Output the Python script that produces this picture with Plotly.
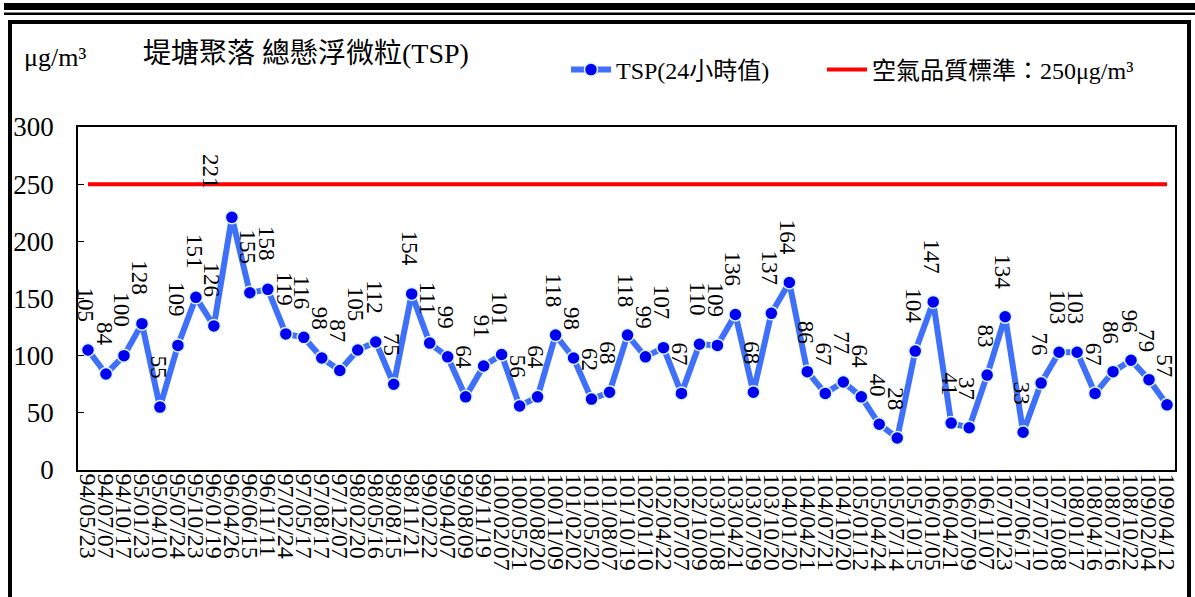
import plotly.graph_objects as go

# ---------------- data ----------------
dates = [
    "94/05/23", "94/07/07", "94/10/17",
    "95/01/23", "95/04/10", "95/07/24", "95/10/23",
    "96/01/19", "96/04/26", "96/06/15", "96/11/11",
    "97/02/24", "97/05/17", "97/08/17", "97/12/07",
    "98/02/20", "98/05/16", "98/08/15", "98/11/21",
    "99/02/22", "99/04/07", "99/08/09", "99/11/19",
    "100/02/07", "100/05/21", "100/08/20", "100/11/09",
    "101/02/02", "101/05/20", "101/08/07", "101/10/19",
    "102/01/10", "102/04/22", "102/07/07", "102/10/09",
    "103/01/08", "103/04/21", "103/07/09", "103/10/20",
    "104/01/20", "104/04/21", "104/07/21", "104/10/20",
    "105/01/12", "105/04/24", "105/07/14", "105/10/15",
    "106/01/05", "106/04/21", "106/07/09", "106/11/07",
    "107/01/23", "107/06/17", "107/07/10", "107/10/08",
    "108/01/17", "108/04/16", "108/07/16", "108/10/22",
    "109/02/04", "109/04/12",
]
tsp = [
    105, 84, 100, 128, 55, 109, 151, 126, 221, 155, 158, 119, 116, 98, 87,
    105, 112, 75, 154, 111, 99, 64, 91, 101, 56, 64, 118, 98, 62, 68,
    118, 99, 107, 67, 110, 109, 136, 68, 137, 164, 86, 67, 77, 64, 40,
    28, 104, 147, 41, 37, 83, 134, 33, 76, 103, 103, 67, 86, 96, 79, 57,
]
standard_value = 250
standard = [standard_value] * len(dates)

series_name = "TSP(24小時值)"
standard_name = "空氣品質標準：250μg/m³"
title_text = "堤塘聚落 總懸浮微粒(TSP)"
unit_text = "μg/m³"
y_ticks = [0, 50, 100, 150, 200, 250, 300]

# ---------------- layout geometry ----------------
W, H = 1195, 597
L, R, T, B = 78, 1175, 127, 470   # plot area in pixels
SERIF = "Liberation Serif, Times New Roman, Noto Sans CJK TC, serif"


def px(xp):
    return (xp - L) / (R - L)


def py(yp):
    return (B - yp) / (B - T)


fig = go.Figure()

fig.add_trace(go.Scatter(
    x=dates, y=tsp, name=series_name, mode="lines+markers",
    line=dict(color="#3F70FA", width=6),
    marker=dict(color="#0000F0", size=13, line=dict(color="#D8F6FF", width=1.5)),
    legend="legend",
))
fig.add_trace(go.Scatter(
    x=dates, y=standard, name=standard_name, mode="lines",
    line=dict(color="#FF0000", width=4),
    legend="legend2",
))

# label nudges (Excel moved the label of the peak sideways)
label_xshift = {8: -22}

annotations = []
for i, (d, v) in enumerate(zip(dates, tsp)):
    annotations.append(dict(
        x=d, y=v, xref="x", yref="y", text=str(v), showarrow=False,
        textangle=90, xanchor="center", yanchor="bottom",
        yshift=26, xshift=label_xshift.get(i, -2),
        font=dict(family=SERIF, size=23, color="black"),
    ))

annotations.append(dict(
    x=px(22), y=py(57), xref="paper", yref="paper", text=unit_text,
    showarrow=False, xanchor="left", yanchor="middle",
    font=dict(family=SERIF, size=26, color="black"),
))
annotations.append(dict(
    x=px(141), y=py(54), xref="paper", yref="paper", text=title_text,
    showarrow=False, xanchor="left", yanchor="middle",
    font=dict(family=SERIF, size=28, color="black"),
))

shapes = [
    # top thick band and thin rule
    dict(type="rect", xref="paper", yref="paper", x0=px(4), x1=px(W + 5),
         y0=py(3), y1=py(10), fillcolor="black", line=dict(width=0), layer="above"),
    dict(type="rect", xref="paper", yref="paper", x0=px(4), x1=px(W + 5),
         y0=py(12.5), y1=py(15), fillcolor="black", line=dict(width=0), layer="above"),
    # outer frame
    dict(type="rect", xref="paper", yref="paper", x0=px(10), x1=px(1189),
         y0=py(22), y1=py(H + 30), line=dict(color="black", width=4),
         fillcolor="rgba(0,0,0,0)", layer="above"),
]

legend_common = dict(
    orientation="h", xanchor="left", yanchor="middle",
    font=dict(family=SERIF, size=24, color="black"),
    bgcolor="rgba(0,0,0,0)", itemwidth=40,
)

fig.update_layout(
    width=W, height=H,
    margin=dict(l=L, r=W - R, t=T, b=H - B, pad=0, autoexpand=False),
    paper_bgcolor="white", plot_bgcolor="white",
    font=dict(family=SERIF, color="black"),
    showlegend=True,
    legend=dict(x=px(566), y=py(70), **legend_common),
    legend2=dict(x=px(822), y=py(70), **legend_common),
    annotations=annotations,
    shapes=shapes,
    xaxis=dict(
        type="category", range=[-0.556, 60.445], tickangle=90,
        tickmode="array", tickvals=dates, ticktext=dates,
        showline=True, linecolor="black", linewidth=1.5, mirror=True,
        ticks="", showgrid=False, zeroline=False, ticklabelstandoff=-3,
        tickfont=dict(family=SERIF, size=24, color="black"),
    ),
    yaxis=dict(
        range=[0, 300], tickvals=y_ticks, ticks="inside", ticklen=6,
        tickcolor="black", showline=True, linecolor="black", linewidth=1.5,
        mirror=True, showgrid=False, zeroline=False, ticklabelstandoff=17,
        tickfont=dict(family=SERIF, size=27, color="black"),
    ),
)

fig.write_html(
    "out.html",
    config={"displayModeBar": False},
    post_script="document.body.style.margin='0';document.body.style.overflow='hidden';",
)
